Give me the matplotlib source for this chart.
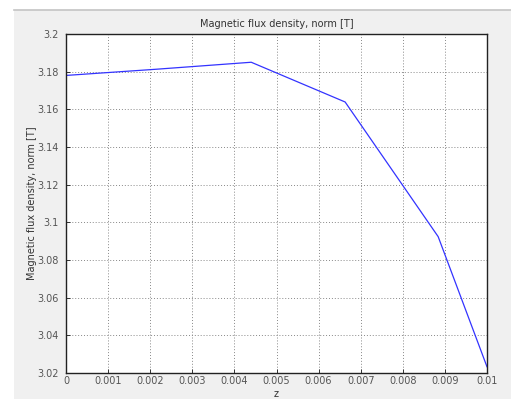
import numpy as np
import matplotlib
matplotlib.use("Agg")
from matplotlib import pyplot as plt
from matplotlib.patches import Rectangle
from matplotlib.lines import Line2D

z = [0.0, 0.00215, 0.0044, 0.00663, 0.00884, 0.01]
b_norm = [3.178, 3.1813, 3.185, 3.1639, 3.0924, 3.0233]

x_ticks = np.arange(0, 0.0101, 0.001)
x_labels = ['0', '0.001', '0.002', '0.003', '0.004', '0.005',
            '0.006', '0.007', '0.008', '0.009', '0.01']
y_ticks = np.arange(3.02, 3.2001, 0.02)
y_labels = ['3.02', '3.04', '3.06', '3.08', '3.1', '3.12',
            '3.14', '3.16', '3.18', '3.2']

W, H = 511, 399
fig = plt.figure(figsize=(W / 100, H / 100), dpi=100, facecolor='white')

# grey panel behind the plot, like the GUI window
fig.patches.append(Rectangle((14 / W, 0), 1 - 14 / W, (H - 10) / H,
                             transform=fig.transFigure, facecolor='#f0f0f0',
                             edgecolor='none', zorder=-10))
fig.lines.append(Line2D([14 / W, 1], [(H - 10) / H, (H - 10) / H],
                        transform=fig.transFigure, color='#c4c4c4', lw=1.2,
                        zorder=-9))

ax = fig.add_axes([66 / W, (H - 373) / H, (487 - 66) / W, (373 - 34) / H])
ax.set_facecolor('white')
ax.plot(z, b_norm, color='#3333ff', lw=0.9)

ax.set_xlim(0, 0.01)
ax.set_ylim(3.02, 3.2)
ax.set_xticks(x_ticks)
ax.set_xticklabels(x_labels)
ax.set_yticks(y_ticks)
ax.set_yticklabels(y_labels)
ax.grid(True, linestyle=(0, (1, 2)), color='#888888', lw=0.7)
ax.tick_params(direction='in', length=3, width=0.7, color='#333333',
               labelsize=7, labelcolor='#555555', pad=5)
ax.tick_params(axis='x', pad=2.5)
for s in ax.spines.values():
    s.set_color('#222222')
    s.set_linewidth(1.0)

ax.set_title('Magnetic flux density, norm [T]', fontsize=7, color='#333333', pad=5)
ax.set_xlabel('z', fontsize=7, color='#333333')
ax.set_ylabel('Magnetic flux density, norm [T]', fontsize=7, color='#333333')
ax.xaxis.set_label_coords(0.5, -0.048)
ax.yaxis.set_label_coords(-0.068, 0.5)

fig.savefig('out.png', dpi=100, facecolor=fig.get_facecolor())
